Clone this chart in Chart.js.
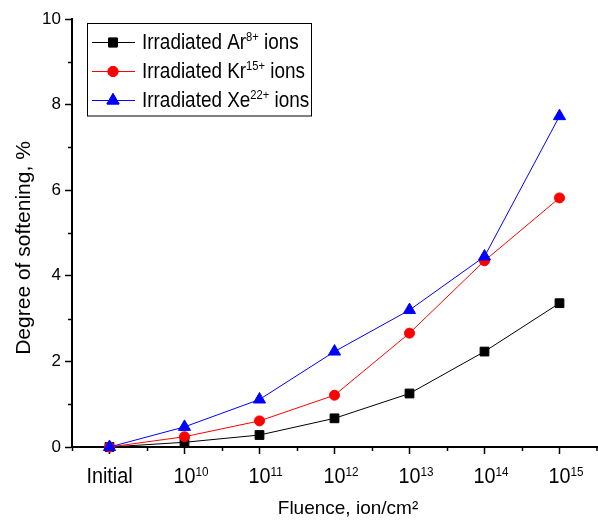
<!DOCTYPE html>
<html>
<head>
	<meta charset="utf-8">
	<title>Degree of softening vs fluence</title>
	<script src="https://cdn.jsdelivr.net/npm/chart.js"></script>
	<style>
		html, body { margin: 0; padding: 0; background: #fff; }
		.chart-container { width: 598px; height: 522px; position: relative; }
	</style>
</head>
<body>
	<div class="chart-container">
		<canvas id="myChart"></canvas>
	</div>
	<script>
		// fluence steps: null = not irradiated, otherwise power of ten (ion/cm2)
		const fluenceExp = [null, 10, 11, 12, 13, 14, 15];
		const ions = ['Ar', 'Kr', 'Xe'];
		const charges = ['8+', '15+', '22+'];
		// degree of softening, %
		const softeningAr = [0, 0.11, 0.28, 0.67, 1.25, 2.23, 3.36];
		const softeningKr = [0, 0.24, 0.61, 1.21, 2.66, 4.35, 5.82];
		const softeningXe = [0, 0.47, 1.11, 2.23, 3.20, 4.45, 7.73];
		const yTicks = [0, 2, 4, 6, 8, 10];
		const yMinorTicks = [1, 3, 5, 7, 9];
		const xTitle = 'Fluence, ion/cm²';
		const yTitle = 'Degree of softening, %';

		const FONT = '"Liberation Sans", Arial, sans-serif';
		const SUP = { '0': '⁰', '1': '¹', '2': '²', '3': '³', '4': '⁴', '5': '⁵', '6': '⁶', '7': '⁷', '8': '⁸', '9': '⁹', '+': '⁺' };
		const toSup = s => String(s).split('').map(c => SUP[c] || c).join('');

		const categories = fluenceExp.map(e => e === null ? 'Initial' : '10' + toSup(e));
		const seriesValues = [softeningAr, softeningKr, softeningXe];
		const colors = ['#000000', '#ff0000', '#0000ff'];
		const markers = ['rect', 'circle', 'triangle'];
		const radii = [6.2, 5, 7];

		// text with an optional superscript, squeezed a little sideways like the original
		function drawRich(ctx, base, sup, tail, x, y, size, sx, centerOnBase) {
			ctx.save();
			ctx.fillStyle = '#000';
			ctx.textAlign = 'left';
			ctx.textBaseline = 'alphabetic';
			const supSize = Math.round(size * 0.6);
			ctx.font = size + 'px ' + FONT;
			const wb = ctx.measureText(base).width;
			ctx.translate(x, y);
			ctx.scale(sx, 1);
			let cx = centerOnBase ? -wb / 2 : 0;
			ctx.fillText(base, cx, 0);
			cx += wb;
			if (sup) {
				ctx.font = supSize + 'px ' + FONT;
				const rise = size * 0.716 - supSize * 0.716 + 1;
				ctx.fillText(sup, cx, -rise);
				cx += ctx.measureText(sup).width;
			}
			if (tail) {
				ctx.font = size + 'px ' + FONT;
				ctx.fillText(tail, cx, 0);
			}
			ctx.restore();
		}

		const originLook = {
			id: 'originLook',
			afterDraw(chart) {
				const ctx = chart.ctx;
				const xs = chart.scales.x, ys = chart.scales.y;
				const area = chart.chartArea;
				ctx.save();
				ctx.strokeStyle = '#000';
				ctx.lineWidth = 1.5;
				// minor ticks
				ctx.beginPath();
				yMinorTicks.forEach(v => {
					const py = Math.round(ys.getPixelForValue(v)) + 0.5;
					ctx.moveTo(area.left - 4, py);
					ctx.lineTo(area.left, py);
				});
				for (let i = 0; i <= categories.length; i++) {
					const px = Math.min(Math.round(xs.getPixelForValue(i - 0.5)) + 0.5, chart.width - 1);
					ctx.moveTo(px, area.bottom);
					ctx.lineTo(px, area.bottom + 4);
				}
				ctx.stroke();
				ctx.restore();

				// x tick labels
				fluenceExp.forEach((e, i) => {
					const px = xs.getPixelForValue(i);
					if (e === null) drawRich(ctx, 'Initial', '', '', px, 483, 22, 0.9, true);
					else drawRich(ctx, '10', String(e), '', px, 483, 22, 0.9, true);
				});

				// axis titles
				ctx.save();
				ctx.fillStyle = '#000';
				ctx.font = '19px ' + FONT;
				ctx.textAlign = 'center';
				ctx.textBaseline = 'alphabetic';
				ctx.fillText(xTitle, 348, 514);
				ctx.translate(30, 248);
				ctx.rotate(-Math.PI / 2);
				ctx.font = '21px ' + FONT;
				ctx.fillText(yTitle, 0, 0);
				ctx.restore();

				// legend box
				ctx.save();
				ctx.strokeStyle = '#000';
				ctx.lineWidth = 1;
				ctx.fillStyle = '#fff';
				ctx.fillRect(88, 23, 224, 93);
				ctx.strokeRect(87.5, 23.5, 224, 92.5);
				chart.data.datasets.forEach((ds, i) => {
					const rowY = 42.5 + i * 29;
					ctx.strokeStyle = ds.borderColor;
					ctx.lineWidth = 1;
					ctx.beginPath();
					ctx.moveTo(92, rowY);
					ctx.lineTo(135, rowY);
					ctx.stroke();
					ctx.fillStyle = ds.borderColor;
					Chart.helpers.drawPoint(ctx, { pointStyle: ds.pointStyle, radius: ds.pointRadius, borderWidth: 1, rotation: 0 }, 113, rowY);
					ctx.fill();
					ctx.stroke();
					drawRich(ctx, 'Irradiated ' + ions[i], charges[i], ' ions', 142, rowY + 6, 22, 0.86, false);
				});
				ctx.restore();
			}
		};

		const ctx = document.getElementById('myChart').getContext('2d');
		const myChart = new Chart(ctx, {
			type: 'line',
			data: {
				labels: categories,
				datasets: seriesValues.map((vals, i) => ({
					label: 'Irradiated ' + ions[i] + toSup(charges[i]) + ' ions',
					data: vals,
					borderColor: colors[i],
					backgroundColor: colors[i],
					pointBackgroundColor: colors[i],
					pointBorderColor: colors[i],
					pointStyle: markers[i],
					pointRadius: radii[i],
					pointBorderWidth: 1,
					borderWidth: 1,
					tension: 0,
					clip: false,
					order: 2 - i
				}))
			},
			plugins: [originLook],
			options: {
				responsive: true,
				maintainAspectRatio: false,
				animation: false,
				events: [],
				layout: { autoPadding: false, padding: { top: 19, right: 1, left: 0, bottom: 0 } },
				plugins: {
					legend: { display: false },
					tooltip: { enabled: false }
				},
				scales: {
					x: {
						type: 'category',
						offset: true,
						afterFit: s => { s.height = 75; s.paddingLeft = 0; s.paddingRight = 0; },
						grid: { drawOnChartArea: false, drawTicks: true, tickLength: 7, tickWidth: 1.5, tickColor: '#000', offset: false },
						border: { color: '#000', width: 2 },
						ticks: { display: false }
					},
					y: {
						min: 0,
						max: 10,
						afterBuildTicks: s => { s.ticks = yTicks.map(v => ({ value: v })); },
						afterFit: s => { s.width = 72; },
						grid: { drawOnChartArea: false, drawTicks: true, tickLength: 7, tickWidth: 1.5, tickColor: '#000' },
						border: { color: '#000', width: 2 },
						ticks: { color: '#000', padding: 4, font: { family: FONT, size: 17 } }
					}
				}
			}
		});
	</script>
</body>
</html>
